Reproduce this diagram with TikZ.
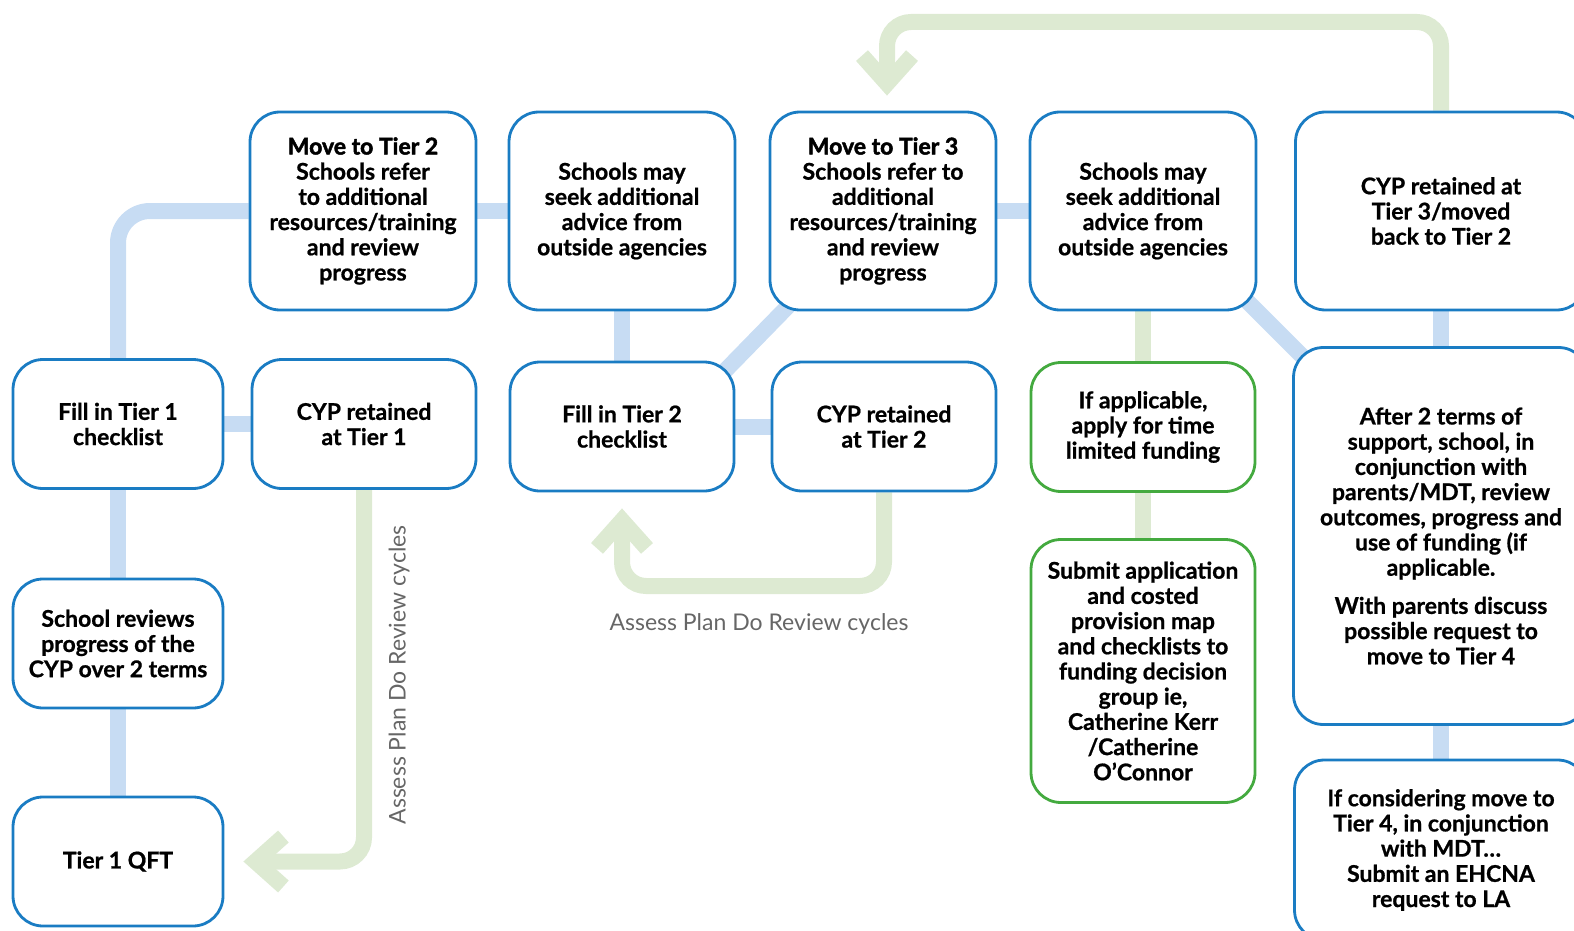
\documentclass[tikz,border=0pt]{standalone}
\usepackage{fontspec}
\setmainfont{Lato}
\newfontface\bodyfont[FakeBold=0.8]{Lato Bold}
\newfontface\headfont[FakeBold=2]{Lato Bold}
\usetikzlibrary{arrows.meta,backgrounds,calc}
\definecolor{boxblue}{HTML}{1A7CC3}
\definecolor{boxgreen}{HTML}{44AA3F}
\definecolor{linkblue}{HTML}{C7DCF3}
\definecolor{linkgreen}{HTML}{DDEAD2}
\definecolor{notegray}{HTML}{666666}

\begin{document}
\begin{tikzpicture}[x=0.5pt, y=-0.5pt,
  box/.style={draw=boxblue, line width=1.4pt, fill=white, rounded corners=15pt, align=center,
    inner sep=0pt, font=\bodyfont\fontsize{11.5}{12.6}\selectfont, text=black},
  fund/.style={box, draw=boxgreen},
  tall/.style={minimum width=113pt, minimum height=99pt},
  wide/.style={minimum width=112pt, minimum height=64.5pt},
  narrow/.style={minimum width=105pt, minimum height=64.5pt},
  link/.style={draw=linkblue, line width=8pt},
  cyclearrow/.style={draw=linkgreen, line width=8pt, rounded corners=12pt,
    -{Straight Barb[sharp, length=14pt, width=25pt]}},
  note/.style={text=notegray, font=\fontsize{11.5}{13}\selectfont}]
  \useasboundingbox (0,0) rectangle (1574,931);

  \node[box, tall] (t2move) at (363,211)
    {{\headfont Move to Tier 2}\\Schools refer\\to additional\\resources/training\\and review\\progress};
  \node[box, tall] (t2adv) at (622,211)
    {Schools may\\seek additional\\advice from\\outside agencies};
  \node[box, tall] (t3move) at (883,211)
    {{\headfont Move to Tier 3}\\Schools refer to\\additional\\resources/training\\and review\\progress};
  \node[box, tall] (t3adv) at (1143,211)
    {Schools may\\seek additional\\advice from\\outside agencies};
  \node[box, minimum width=145.5pt, minimum height=99pt] (t3kept) at (1441,211)
    {CYP retained at\\Tier 3/moved\\back to Tier 2};

  \node[box, narrow] (t1fill) at (118,424) {Fill in Tier 1\\checklist};
  \node[box, wide] (t1kept) at (364,424) {CYP retained\\at Tier 1};
  \node[box, wide] (t2fill) at (622,426.5) {Fill in Tier 2\\checklist};
  \node[box, wide] (t2kept) at (884,426.5) {CYP retained\\at Tier 2};
  \node[fund, wide] (fundask) at (1143,427)
    {If applicable,\\apply for time\\limited funding};
  \node[box, minimum width=147.5pt, minimum height=188.5pt] (review) at (1441,536)
    {After 2 terms of\\support, school, in\\conjunction with\\parents/MDT, review\\outcomes, progress and\\use of funding (if\\applicable.\\[6.5pt]With parents discuss\\possible request to\\move to Tier 4};

  \node[box, narrow] (t1review) at (118,643.5)
    {School reviews\\progress of the\\CYP over 2 terms};
  \node[fund, minimum width=112pt, minimum height=131.5pt] (fundsub) at (1143,671)
    {Submit application\\and costed\\provision map\\and checklists to\\funding decision\\group ie,\\Catherine Kerr\\/Catherine\\O’Connor};
  \node[box, minimum width=146.5pt, minimum height=90pt] (ehcna) at (1441,850)
    {If considering move to\\Tier 4, in conjunction\\with MDT…\\Submit an EHCNA\\request to LA};
  \node[box, narrow] (t1qft) at (118,861.5) {Tier 1 QFT};

  \node[note, rotate=90] (cycle1) at (399,675) {Assess Plan Do Review cycles};
  \node[note] (cycle2) at (759,624) {Assess Plan Do Review cycles};

  \begin{scope}[on background layer]
    \draw[link, rounded corners=16pt] (t1fill.north) |- (t2move.west);
    \path[link]
    (t1fill) edge (t1kept)
    edge (t1review)
    (t1review) edge (t1qft)
    (t2move) edge (t2adv)
    (t2adv) edge (t2fill)
    (t2fill) edge (t2kept)
    ($(t2fill.north east)+(-20,20)$) edge ($(t3move.south west)+(30,-16)$)
    (t3move) edge (t3adv)
    ($(t3adv.south east)+(-20,-20)$) edge ($(review.north west)+(20,20)$)
    (t3kept) edge (review)
    (review) edge (ehcna)
    ;
    \path[link, draw=linkgreen]
    (t3adv) edge (fundask)
    (fundask) edge (fundsub)
    ;
    \coordinate (back2) at (754,586);
    \coordinate (back3) at (1165,22);
    \draw[cyclearrow, shorten >=9.5pt] (t1kept.south) |- (t1qft.east);
    \draw[cyclearrow, shorten >=8pt] (t2kept.south) |- (back2) -| (t2fill.south);
    \draw[cyclearrow, shorten >=7.5pt] (t3kept.north) |- (back3) -| ([xshift=2pt]t3move.north);
  \end{scope}
\end{tikzpicture}
\end{document}
